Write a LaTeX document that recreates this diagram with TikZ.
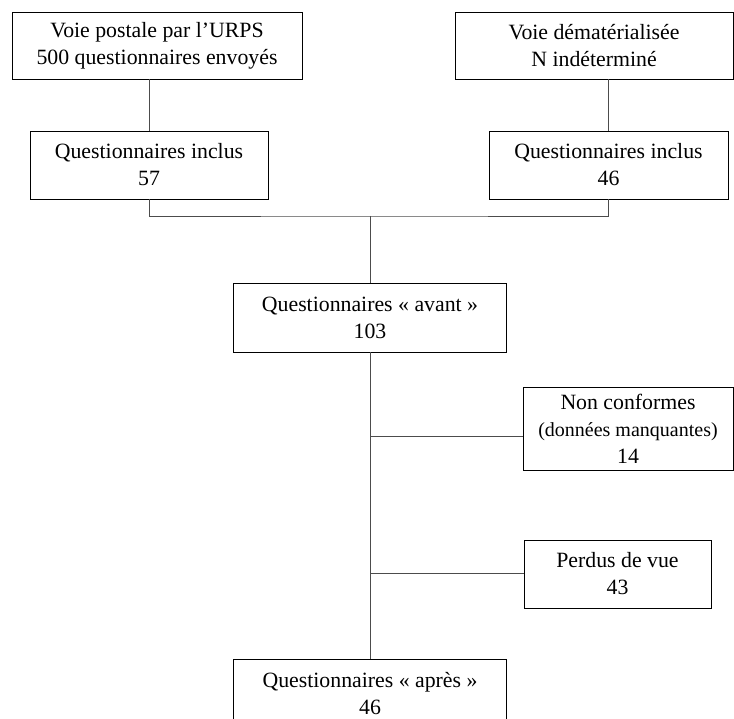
\documentclass[tikz,border=0pt]{standalone}
\usepackage{fontspec}
\setmainfont{Liberation Serif}
\usetikzlibrary{positioning}

\begin{document}
\begin{tikzpicture}[x=1pt,y=-1pt,
  box/.style={rectangle,draw=black,line width=0.9pt,inner sep=0pt,align=center,font=\fontsize{21.8}{27}\selectfont},
  link/.style={draw=black!70,line width=0.9pt}
]
\useasboundingbox (0,0) rectangle (734,719);
\clip (0,0) rectangle (734,719);
% sources
\node[box,minimum width=290pt,minimum height=67pt] (postale) at (157,45.5) {Voie postale par l’URPS\\500 questionnaires envoyés};
\node[box,minimum width=278pt,minimum height=67pt] (demat) at (594,45.5) {Voie dématérialisée\\N indéterminé};
\node[box,minimum width=238pt,minimum height=68pt] (incl1) at (149,165) {Questionnaires inclus\\57};
\node[box,minimum width=239pt,minimum height=68pt] (incl2) at (608.5,165) {Questionnaires inclus\\46};
% main trunk
\node[box,minimum width=273pt,minimum height=69pt] (avant) at (370,317.5) {Questionnaires « avant »\\103};
\node[box,minimum width=210pt,minimum height=83pt] (nonconf) at (628,428.5) {Non conformes\\{\fontsize{20}{27}\selectfont (données manquantes)}\\14};
\node[box,minimum width=187pt,minimum height=68pt] (perdus) at (617.5,574) {Perdus de vue\\43};
\node[box,minimum width=273pt,minimum height=70pt] (apres) at (370,694) {Questionnaires « après »\\46};
\coordinate (join) at (370,216);
\coordinate (br1) at (370,436);
\coordinate (br2) at (370,573);
\draw[link] (incl1.north |- postale.south) -- (incl1.north);
\draw[link] (incl2.north |- demat.south) -- (incl2.north);
\draw[link] (incl1.south) |- (join) -| (incl2.south);
\draw[link] (join) -- (avant.north);
\draw[link] (avant.south) -- (apres.north);
\draw[link] (br1) -- (br1 -| nonconf.west);
\draw[link] (br2) -- (br2 -| perdus.west);
\end{tikzpicture}
\end{document}
